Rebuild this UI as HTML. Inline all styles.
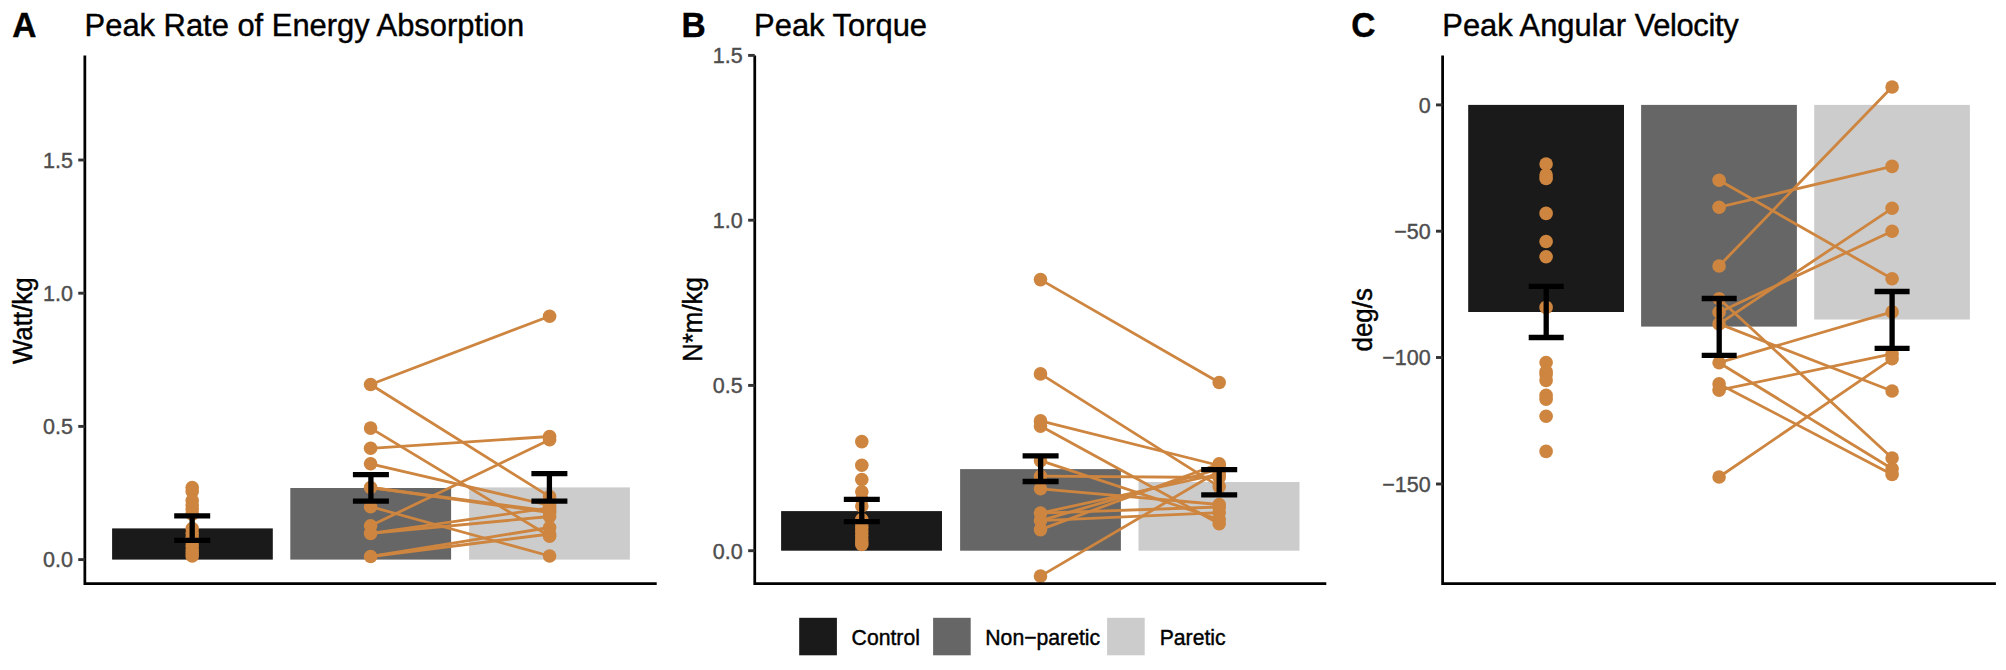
<!DOCTYPE html>
<html><head><meta charset="utf-8"><title>Figure</title>
<style>
html,body{margin:0;padding:0;background:#fff}
svg{display:block}
text{font-family:"Liberation Sans",Arial,Helvetica,sans-serif}
.tk{font-size:21.5px;fill:#4D4D4D;stroke:#4D4D4D;stroke-width:.4px}
.ttl{font-size:30.9px;fill:#000;stroke:#000;stroke-width:.4px}
.tag{font-size:33.5px;font-weight:bold;fill:#000;stroke:#000;stroke-width:.4px}
.yl{font-size:25.9px;fill:#000;stroke:#000;stroke-width:.4px}
.lg{font-size:21.2px;fill:#000;stroke:#000;stroke-width:.4px}
.p circle{fill:#CD853F}
.p line{stroke:#CD853F;stroke-width:2.8;stroke-linecap:round}
</style></head><body>
<svg width="2006" height="670" viewBox="0 0 2006 670">
<rect width="2006" height="670" fill="#fff"/>

<g id="A">
<text transform="translate(12.2,36.7) scale(1,1.044)" class="tag">A</text>
<text transform="translate(84.6,35.8) scale(1,1.044)" class="ttl">Peak Rate of Energy Absorption</text>
<text transform="translate(32.2,320.7) rotate(-90) scale(1,1.044)" text-anchor="middle" class="yl">Watt/kg</text>
<rect x="112.1" y="528.4" width="160.7" height="31.2" fill="#1A1A1A"/>
<rect x="290.3" y="488" width="160.8" height="71.6" fill="#666666"/>
<rect x="469.1" y="487.4" width="160.8" height="72.2" fill="#CCCCCC"/>
<g class="p">
<circle cx="192.2" cy="487.6" r="6.8"/><circle cx="192.2" cy="491.5" r="6.8"/><circle cx="192.2" cy="500.6" r="6.8"/><circle cx="192.2" cy="505" r="6.8"/><circle cx="192.2" cy="509" r="6.8"/><circle cx="192.2" cy="514.3" r="6.8"/><circle cx="192.2" cy="528.6" r="6.8"/><circle cx="192.2" cy="533" r="6.8"/><circle cx="192.2" cy="537.5" r="6.8"/><circle cx="192.2" cy="542" r="6.8"/><circle cx="192.2" cy="546" r="6.8"/><circle cx="192.2" cy="550" r="6.8"/><circle cx="192.2" cy="553" r="6.8"/><circle cx="192.2" cy="556" r="6.8"/>
<line x1="370.6" y1="384.5" x2="549.6" y2="316.2"/><line x1="370.6" y1="384.5" x2="549.6" y2="496.6"/><line x1="370.6" y1="428.1" x2="549.6" y2="536.3"/><line x1="370.6" y1="448.3" x2="549.6" y2="436.5"/><line x1="370.6" y1="463.8" x2="549.6" y2="505.5"/><line x1="370.6" y1="487.5" x2="549.6" y2="511"/><line x1="370.6" y1="487.5" x2="549.6" y2="512.5"/><line x1="370.6" y1="506.7" x2="549.6" y2="556"/><line x1="370.6" y1="525.8" x2="549.6" y2="439.7"/><line x1="370.6" y1="533.4" x2="549.6" y2="507.9"/><line x1="370.6" y1="533.4" x2="549.6" y2="516.5"/><line x1="370.6" y1="556.5" x2="549.6" y2="527.5"/><line x1="370.6" y1="556.5" x2="549.6" y2="534"/>
<circle cx="370.6" cy="384.5" r="6.8"/><circle cx="370.6" cy="428.1" r="6.8"/><circle cx="370.6" cy="448.3" r="6.8"/><circle cx="370.6" cy="463.8" r="6.8"/><circle cx="370.6" cy="487.5" r="6.8"/><circle cx="370.6" cy="506.7" r="6.8"/><circle cx="370.6" cy="525.8" r="6.8"/><circle cx="370.6" cy="533.4" r="6.8"/><circle cx="370.6" cy="556.5" r="6.8"/>
<circle cx="549.6" cy="316.2" r="6.8"/><circle cx="549.6" cy="436.5" r="6.8"/><circle cx="549.6" cy="439.7" r="6.8"/><circle cx="549.6" cy="496.6" r="6.8"/><circle cx="549.6" cy="505.5" r="6.8"/><circle cx="549.6" cy="507.9" r="6.8"/><circle cx="549.6" cy="511" r="6.8"/><circle cx="549.6" cy="512.5" r="6.8"/><circle cx="549.6" cy="516.5" r="6.8"/><circle cx="549.6" cy="527.5" r="6.8"/><circle cx="549.6" cy="534" r="6.8"/><circle cx="549.6" cy="536.3" r="6.8"/><circle cx="549.6" cy="556" r="6.8"/>
</g>
<path d="M174.2 515.8H210.2M174.2 540.4H210.2M192.2 515.8V540.4" stroke="#000" stroke-width="5.3" fill="none"/>
<path d="M352.9 474.6H388.9M352.9 501.2H388.9M370.9 474.6V501.2" stroke="#000" stroke-width="5.3" fill="none"/>
<path d="M531.4 473.7H567.4M531.4 501.2H567.4M549.4 473.7V501.2" stroke="#000" stroke-width="5.3" fill="none"/>
<path d="M84.85 55.4V583.5H656.7" stroke="#000" stroke-width="2.75" fill="none" stroke-linejoin="miter"/><line x1="78.25" y1="559.6" x2="84.85" y2="559.6" stroke="#333" stroke-width="2.9"/><line x1="78.25" y1="426.4" x2="84.85" y2="426.4" stroke="#333" stroke-width="2.9"/><line x1="78.25" y1="293.2" x2="84.85" y2="293.2" stroke="#333" stroke-width="2.9"/><line x1="78.25" y1="160" x2="84.85" y2="160" stroke="#333" stroke-width="2.9"/><text transform="translate(72.85,567.4) scale(1,1.044)" text-anchor="end" class="tk">0.0</text><text transform="translate(72.85,434.2) scale(1,1.044)" text-anchor="end" class="tk">0.5</text><text transform="translate(72.85,301.0) scale(1,1.044)" text-anchor="end" class="tk">1.0</text><text transform="translate(72.85,167.8) scale(1,1.044)" text-anchor="end" class="tk">1.5</text>
</g>
<g id="B">
<text transform="translate(681.6,36.7) scale(1,1.044)" class="tag">B</text>
<text transform="translate(754.1,35.8) scale(1,1.044)" class="ttl">Peak Torque</text>
<text transform="translate(701.5,319.5) rotate(-90) scale(1,1.044)" text-anchor="middle" class="yl">N*m/kg</text>
<rect x="781.1" y="511.1" width="160.9" height="39.6" fill="#1A1A1A"/>
<rect x="960.1" y="469.1" width="160.8" height="81.6" fill="#666666"/>
<rect x="1138.5" y="482" width="161" height="68.7" fill="#CCCCCC"/>
<g class="p">
<circle cx="861.8" cy="441.6" r="6.8"/><circle cx="861.8" cy="465.3" r="6.8"/><circle cx="861.8" cy="479.5" r="6.8"/><circle cx="861.8" cy="491.7" r="6.8"/><circle cx="861.8" cy="499" r="6.8"/><circle cx="861.8" cy="506" r="6.8"/><circle cx="861.8" cy="519.5" r="6.8"/><circle cx="861.8" cy="523.5" r="6.8"/><circle cx="861.8" cy="527.5" r="6.8"/><circle cx="861.8" cy="531.5" r="6.8"/><circle cx="861.8" cy="535.5" r="6.8"/><circle cx="861.8" cy="539" r="6.8"/><circle cx="861.8" cy="542" r="6.8"/><circle cx="861.8" cy="544.5" r="6.8"/>
<line x1="1040.5" y1="279.6" x2="1219.2" y2="382.5"/><line x1="1040.5" y1="373.9" x2="1219.2" y2="486.6"/><line x1="1040.5" y1="420.9" x2="1219.2" y2="465.5"/><line x1="1040.5" y1="426.1" x2="1219.2" y2="523.8"/><line x1="1040.5" y1="460.7" x2="1219.2" y2="519.5"/><line x1="1040.5" y1="476.2" x2="1219.2" y2="477.5"/><line x1="1040.5" y1="488.8" x2="1219.2" y2="504.5"/><line x1="1040.5" y1="513.1" x2="1219.2" y2="507"/><line x1="1040.5" y1="520.6" x2="1219.2" y2="512.6"/><line x1="1040.5" y1="513.1" x2="1219.2" y2="474"/><line x1="1040.5" y1="520.6" x2="1219.2" y2="469"/><line x1="1040.5" y1="529.6" x2="1219.2" y2="463.8"/><line x1="1040.5" y1="576.1" x2="1219.2" y2="471"/>
<circle cx="1040.5" cy="279.6" r="6.8"/><circle cx="1040.5" cy="373.9" r="6.8"/><circle cx="1040.5" cy="420.9" r="6.8"/><circle cx="1040.5" cy="426.1" r="6.8"/><circle cx="1040.5" cy="460.7" r="6.8"/><circle cx="1040.5" cy="476.2" r="6.8"/><circle cx="1040.5" cy="488.8" r="6.8"/><circle cx="1040.5" cy="513.1" r="6.8"/><circle cx="1040.5" cy="520.6" r="6.8"/><circle cx="1040.5" cy="529.6" r="6.8"/><circle cx="1040.5" cy="576.1" r="6.8"/>
<circle cx="1219.2" cy="382.5" r="6.8"/><circle cx="1219.2" cy="463.8" r="6.8"/><circle cx="1219.2" cy="465.5" r="6.8"/><circle cx="1219.2" cy="469" r="6.8"/><circle cx="1219.2" cy="471" r="6.8"/><circle cx="1219.2" cy="474" r="6.8"/><circle cx="1219.2" cy="477.5" r="6.8"/><circle cx="1219.2" cy="486.6" r="6.8"/><circle cx="1219.2" cy="504.5" r="6.8"/><circle cx="1219.2" cy="507" r="6.8"/><circle cx="1219.2" cy="512.6" r="6.8"/><circle cx="1219.2" cy="519.5" r="6.8"/><circle cx="1219.2" cy="523.8" r="6.8"/>
</g>
<path d="M843.8 499.3H879.8M843.8 521.7H879.8M861.8 499.3V521.7" stroke="#000" stroke-width="5.3" fill="none"/>
<path d="M1022.5999999999999 455.8H1058.6M1022.5999999999999 481.5H1058.6M1040.6 455.8V481.5" stroke="#000" stroke-width="5.3" fill="none"/>
<path d="M1201.2 469.6H1237.2M1201.2 494.9H1237.2M1219.2 469.6V494.9" stroke="#000" stroke-width="5.3" fill="none"/>
<path d="M754.75 55.4V583.6H1326.3" stroke="#000" stroke-width="2.75" fill="none" stroke-linejoin="miter"/><line x1="748.15" y1="550.7" x2="754.75" y2="550.7" stroke="#333" stroke-width="2.9"/><line x1="748.15" y1="385.4" x2="754.75" y2="385.4" stroke="#333" stroke-width="2.9"/><line x1="748.15" y1="220.2" x2="754.75" y2="220.2" stroke="#333" stroke-width="2.9"/><line x1="748.15" y1="55.4" x2="754.75" y2="55.4" stroke="#333" stroke-width="2.9"/><text transform="translate(742.75,558.5) scale(1,1.044)" text-anchor="end" class="tk">0.0</text><text transform="translate(742.75,393.2) scale(1,1.044)" text-anchor="end" class="tk">0.5</text><text transform="translate(742.75,228.0) scale(1,1.044)" text-anchor="end" class="tk">1.0</text><text transform="translate(742.75,63.199999999999996) scale(1,1.044)" text-anchor="end" class="tk">1.5</text>
</g>
<g id="C">
<text transform="translate(1351.2,36.7) scale(1,1.044)" class="tag">C</text>
<text transform="translate(1442.3,35.8) scale(1,1.044)" class="ttl">Peak Angular <tspan style="letter-spacing:-0.36px">Velocity</tspan></text>
<text transform="translate(1371.6,319.8) rotate(-90) scale(1,1.044)" text-anchor="middle" class="yl">deg/s</text>
<rect x="1468.2" y="104.9" width="155.8" height="207.1" fill="#1A1A1A"/>
<rect x="1641.1" y="104.9" width="155.8" height="221.7" fill="#666666"/>
<rect x="1814.2" y="104.9" width="155.7" height="214.6" fill="#CCCCCC"/>
<g class="p">
<circle cx="1546.1" cy="164" r="6.8"/><circle cx="1546.1" cy="175" r="6.8"/><circle cx="1546.1" cy="178.5" r="6.8"/><circle cx="1546.1" cy="213.4" r="6.8"/><circle cx="1546.1" cy="241.5" r="6.8"/><circle cx="1546.1" cy="256.7" r="6.8"/><circle cx="1546.1" cy="307.4" r="6.8"/><circle cx="1546.1" cy="362.5" r="6.8"/><circle cx="1546.1" cy="371.5" r="6.8"/><circle cx="1546.1" cy="374.5" r="6.8"/><circle cx="1546.1" cy="380.4" r="6.8"/><circle cx="1546.1" cy="395.4" r="6.8"/><circle cx="1546.1" cy="399.2" r="6.8"/><circle cx="1546.1" cy="416.2" r="6.8"/><circle cx="1546.1" cy="451.4" r="6.8"/>
<line x1="1719.1" y1="180.3" x2="1892.1" y2="278.8"/><line x1="1719.1" y1="207.2" x2="1892.1" y2="166.4"/><line x1="1719.1" y1="266" x2="1892.1" y2="87"/><line x1="1719.1" y1="298.8" x2="1892.1" y2="458"/><line x1="1719.1" y1="312.2" x2="1892.1" y2="231.2"/><line x1="1719.1" y1="323.9" x2="1892.1" y2="208.3"/><line x1="1719.1" y1="323.9" x2="1892.1" y2="391"/><line x1="1719.1" y1="362.7" x2="1892.1" y2="311.9"/><line x1="1719.1" y1="362.7" x2="1892.1" y2="468.7"/><line x1="1719.1" y1="383.9" x2="1892.1" y2="474.4"/><line x1="1719.1" y1="390.2" x2="1892.1" y2="353.9"/><line x1="1719.1" y1="477" x2="1892.1" y2="358.8"/>
<circle cx="1719.1" cy="180.3" r="6.8"/><circle cx="1719.1" cy="207.2" r="6.8"/><circle cx="1719.1" cy="266" r="6.8"/><circle cx="1719.1" cy="298.8" r="6.8"/><circle cx="1719.1" cy="312.2" r="6.8"/><circle cx="1719.1" cy="323.9" r="6.8"/><circle cx="1719.1" cy="362.7" r="6.8"/><circle cx="1719.1" cy="383.9" r="6.8"/><circle cx="1719.1" cy="390.2" r="6.8"/><circle cx="1719.1" cy="477" r="6.8"/>
<circle cx="1892.1" cy="87" r="6.8"/><circle cx="1892.1" cy="166.4" r="6.8"/><circle cx="1892.1" cy="208.3" r="6.8"/><circle cx="1892.1" cy="231.2" r="6.8"/><circle cx="1892.1" cy="278.8" r="6.8"/><circle cx="1892.1" cy="311.9" r="6.8"/><circle cx="1892.1" cy="353.9" r="6.8"/><circle cx="1892.1" cy="358.8" r="6.8"/><circle cx="1892.1" cy="391" r="6.8"/><circle cx="1892.1" cy="458" r="6.8"/><circle cx="1892.1" cy="468.7" r="6.8"/><circle cx="1892.1" cy="474.4" r="6.8"/>
</g>
<path d="M1528.7 286.4H1563.7M1528.7 337.5H1563.7M1546.2 286.4V337.5" stroke="#000" stroke-width="5.3" fill="none"/>
<path d="M1701.7 298.5H1736.7M1701.7 355.4H1736.7M1719.2 298.5V355.4" stroke="#000" stroke-width="5.3" fill="none"/>
<path d="M1874.6 291.5H1909.6M1874.6 348.3H1909.6M1892.1 291.5V348.3" stroke="#000" stroke-width="5.3" fill="none"/>
<path d="M1442.6 55.4V583.6H1995.9" stroke="#000" stroke-width="2.75" fill="none" stroke-linejoin="miter"/><line x1="1436.0" y1="104.9" x2="1442.6" y2="104.9" stroke="#333" stroke-width="2.9"/><line x1="1436.0" y1="231.2" x2="1442.6" y2="231.2" stroke="#333" stroke-width="2.9"/><line x1="1436.0" y1="357.5" x2="1442.6" y2="357.5" stroke="#333" stroke-width="2.9"/><line x1="1436.0" y1="484" x2="1442.6" y2="484" stroke="#333" stroke-width="2.9"/><text transform="translate(1430.6,112.7) scale(1,1.044)" text-anchor="end" class="tk">0</text><text transform="translate(1430.6,239.0) scale(1,1.044)" text-anchor="end" class="tk">−50</text><text transform="translate(1430.6,365.3) scale(1,1.044)" text-anchor="end" class="tk">−100</text><text transform="translate(1430.6,491.8) scale(1,1.044)" text-anchor="end" class="tk">−150</text>
</g>
<g id="L">
<rect x="799.2" y="617.8" width="37.7" height="37.5" fill="#1A1A1A"/>
<text transform="translate(851.6,644.5) scale(1,1.044)" class="lg">Control</text>
<rect x="933.1" y="617.8" width="37.6" height="37.5" fill="#666666"/>
<text transform="translate(985.3,644.5) scale(1,1.044)" class="lg">Non−paretic</text>
<rect x="1107.1" y="617.8" width="37.6" height="37.5" fill="#CCCCCC"/>
<text transform="translate(1159.7,644.5) scale(1,1.044)" class="lg">Paretic</text>
</g>
</svg></body></html>
